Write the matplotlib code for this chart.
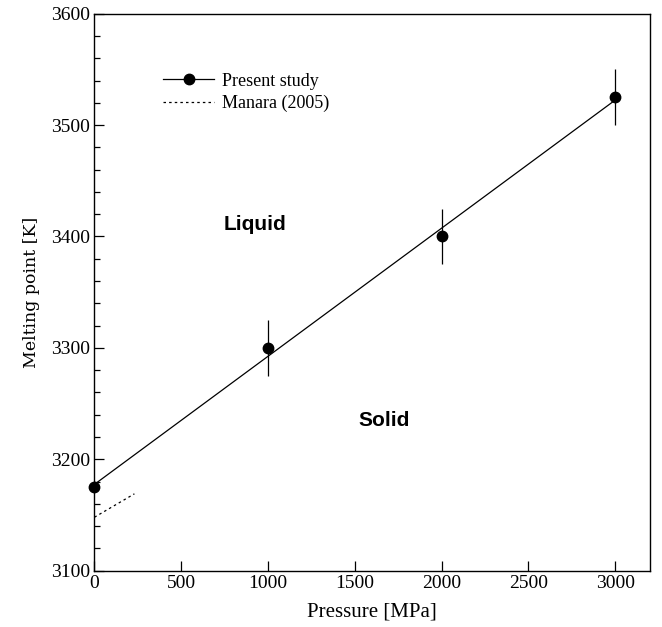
import matplotlib
matplotlib.use("Agg")
import matplotlib.pyplot as plt
from matplotlib.ticker import MultipleLocator
from matplotlib.lines import Line2D

pressure = [0, 1000, 2000, 3000]
melting = [3175, 3300, 3400, 3525]
err = [0, 25, 25, 25]
fit_x = [0, 3000]
fit_y = [3177.5, 3522.5]
manara_x = [0, 230]
manara_y = [3148, 3169]

plt.rcParams['font.family'] = ['Liberation Serif', 'DejaVu Serif']

fig = plt.figure(figsize=(6.62, 6.27), dpi=100)
ax = fig.add_axes([0.1427, 0.0898, 0.8392, 0.8884])

ax.plot(fit_x, fit_y, color='black', lw=0.9)
ax.errorbar(pressure, melting, yerr=err, fmt='o', color='black', ms=7.5,
            elinewidth=0.9, capsize=0, clip_on=False, zorder=3)
ax.plot(manara_x, manara_y, color='black', lw=0.9, linestyle=(0, (2, 2.5)))

ax.set_xlim(0, 3200)
ax.set_ylim(3100, 3600)
ax.xaxis.set_major_locator(MultipleLocator(500))
ax.yaxis.set_major_locator(MultipleLocator(100))
ax.yaxis.set_minor_locator(MultipleLocator(20))
ax.tick_params(axis='both', which='major', direction='in', length=7, width=0.9,
               labelsize=14, pad=3)
ax.tick_params(axis='y', which='minor', direction='in', length=4, width=0.9)
for s in ax.spines.values():
    s.set_linewidth(1.0)

ax.set_xlabel('Pressure [MPa]', fontsize=15, labelpad=8)
ax.set_ylabel('Melting point [K]', fontsize=12.5, labelpad=8, family='DejaVu Serif')

ax.text(923, 3411, 'Liquid', fontsize=15, fontweight='bold', family='Liberation Sans',
        ha='center', va='center')
ax.text(1671, 3235, 'Solid', fontsize=15, fontweight='bold', family='Liberation Sans',
        ha='center', va='center')

handles = [Line2D([], [], color='black', lw=0.9, marker='o', ms=7.5),
           Line2D([], [], color='black', lw=0.9, linestyle=(0, (2, 2.5)))]
ax.legend(handles, ['Present study', 'Manara (2005)'], loc='upper left',
          bbox_to_anchor=(0.095, 0.923), frameon=False, fontsize=13,
          handlelength=2.8, handletextpad=0.45, labelspacing=0.28)

fig.savefig('out.png', dpi=100)
